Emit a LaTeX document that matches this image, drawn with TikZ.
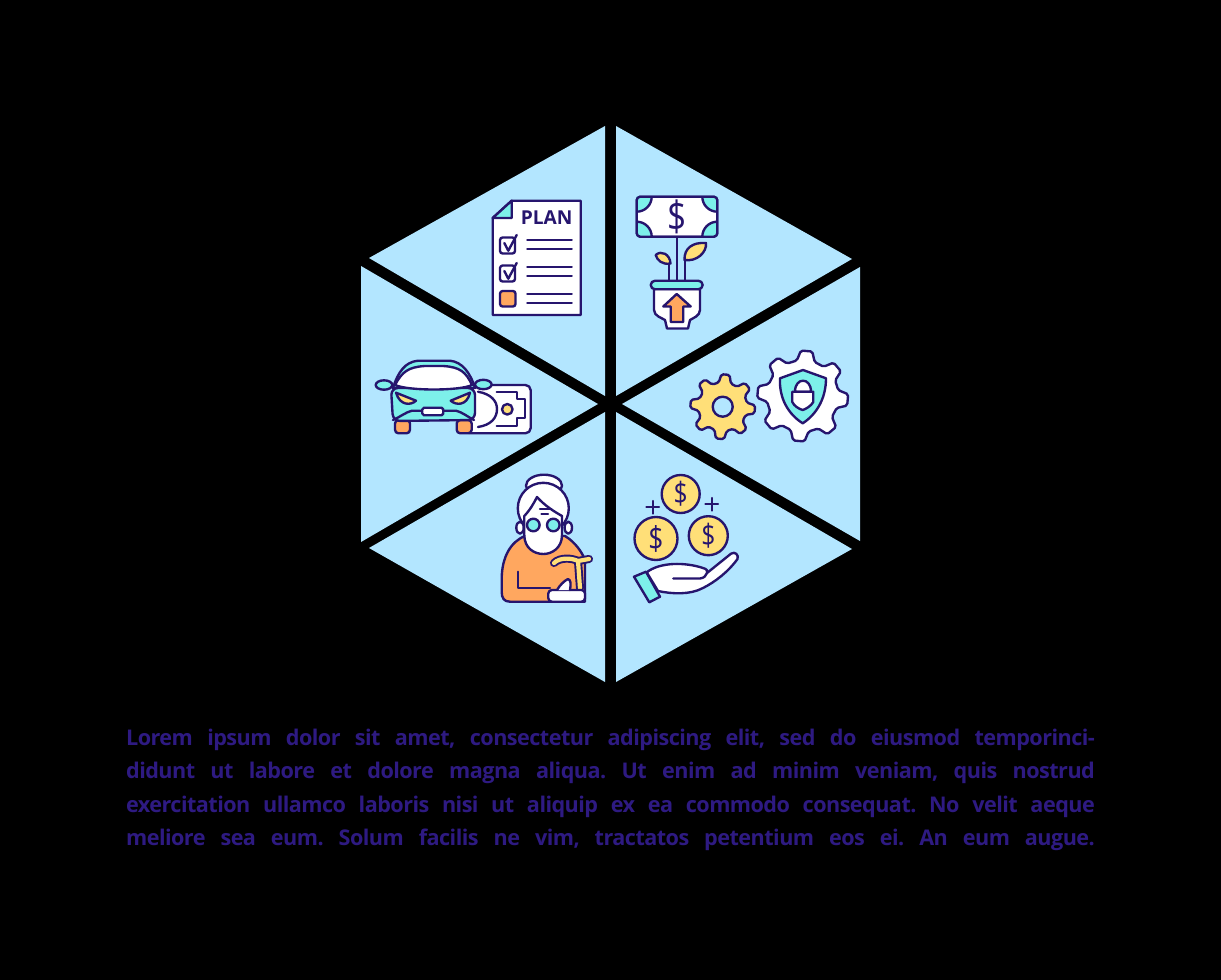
\documentclass[tikz,border=0pt]{standalone}
\usepackage{fontspec}
\usepackage{graphicx}
\setmainfont{Open Sans}
\newfontfamily\bodyfont{Open Sans}[LetterSpace=-2.5]
\usetikzlibrary{calc}
\definecolor{sky}{HTML}{B3E6FF}
\definecolor{ink}{HTML}{26156E}
\definecolor{bodyink}{HTML}{2E1A82}
\definecolor{mint}{HTML}{7DF0EA}
\definecolor{gold}{HTML}{FFDF78}
\definecolor{peach}{HTML}{FFA75F}
\tikzset{
	wedge/.style={fill=sky},
	icon/.style={draw=ink,line width=1.35pt,line join=round,line cap=round},
	bodyline/.style={text=bodyink,inner sep=0pt,font=\bodyfont\bfseries\frenchspacing\fontsize{12.3}{14}\selectfont},
	dollar/.style={text=ink,inner sep=0pt,font=\fontsize{#1}{#1}\selectfont}
}
% one gear: centre, outer radius, root radius, number of teeth, fill
\newcommand{\drawgear}[5]{
	\pgfmathsetmacro{\gearstep}{360/#4}
	\draw[icon,fill=#5,rounded corners=1pt] ($(#1)+(5+0.16*\gearstep:#2)$) \foreach \k in {1,...,#4}{
		-- ($(#1)+(5+\k*\gearstep-\gearstep+0.16*\gearstep:#2)$)
		-- ($(#1)+(5+\k*\gearstep-\gearstep+0.32*\gearstep:#3)$)
		-- ($(#1)+(5+\k*\gearstep-\gearstep+0.68*\gearstep:#3)$)
		-- ($(#1)+(5+\k*\gearstep-\gearstep+0.84*\gearstep:#2)$)
	} -- cycle;
}
\begin{document}
\begin{tikzpicture}[x=0.02cm,y=-0.02cm,line join=round,line cap=round]
	\fill[black] (0,0) rectangle (1221,980);
	% wedges
	\fill[wedge] (605,126)--(605,396)--(369,258)--cycle;
	\fill[wedge] (616,126)--(616,396)--(852,259)--cycle;
	\fill[wedge] (860,267)--(860,541)--(622,404)--cycle;
	\fill[wedge] (852,549)--(616,682)--(616,412)--cycle;
	\fill[wedge] (605,682)--(369,548)--(605,412)--cycle;
	\fill[wedge] (361,266)--(361,542)--(598,404)--cycle;
	% plan sheet
	\draw[icon,fill=white] (492.7,218)--(511.7,200.7)--(580.7,200.7)--(580.7,315)--(492.7,315)--cycle;
	\draw[icon,fill=mint] (492.7,218)--(511.7,200.7)--(511.7,218)--cycle;
	\node[text=ink,inner sep=0pt,font=\bfseries\fontsize{10.9}{12}\selectfont] (plan) at (546.7,218) {PLAN};
	\draw[icon,fill=white,rounded corners=1.5pt] (500,237.5) rectangle (515,253.5);
	\draw[icon,fill=white,rounded corners=1.5pt] (500,265.5) rectangle (515,281.5);
	\draw[icon,fill=peach,rounded corners=1.5pt] (500,291) rectangle (515.5,306.5);
	\draw[icon] (504.3,243)--(508.3,250.7)--(516.7,235);
	\draw[icon] (504.3,271)--(508.3,278.7)--(516.7,263);
	\foreach \y in {240.3,249,267,276,293.7,302.7}
		\draw[icon] (527.3,\y)--(571.7,\y);
	% plant with note
	\draw[icon] (676.7,236)--(676.7,281);
	\draw[icon] (669.3,281)--(669.3,263);
	\draw[icon] (685.3,281)--(685.3,260);
	\draw[icon,fill=gold] (655.7,255) .. controls (661,250) and (670,254) .. (670.5,263.5) .. controls (662,265) and (657,260) .. cycle;
	\draw[icon,fill=gold] (684.5,260) .. controls (684,248) and (693,242) .. (706,243) .. controls (707,252) and (697,262) .. cycle;
	\draw[icon,fill=white,rounded corners=2pt] (636.7,196.7) rectangle (717.3,236.7);
	\begin{scope}
		\clip (636.7,196.7) rectangle (717.3,236.7);
		\foreach \cx/\cy in {636.7/196.7,717.3/196.7,636.7/236.7,717.3/236.7}
			\draw[icon,fill=mint] (\cx,\cy) circle (15);
	\end{scope}
	\draw[icon,rounded corners=2pt] (636.7,196.7) rectangle (717.3,236.7);
	\node[dollar=19] (notesign) at (676.7,216.7) {\scalebox{1}[1.25]{\$}};
	\draw[icon,fill=white] (654,289) -- (654,310) .. controls (654,316) and (662,318) .. (665,320) -- (667,328.5) -- (688,328.5) -- (690,320) .. controls (693,318) and (700,316) .. (700,310) -- (700,289) -- cycle;
	\draw[icon,fill=mint,rounded corners=2.5pt] (650.7,280.7) rectangle (702.7,289.3);
	\draw[icon,fill=peach] (676.7,294)--(690.7,306.5)--(683.3,306.5)--(683.3,322)--(670.7,322)--(670.7,306.5)--(663.3,306.5)--cycle;
	% note behind car
	\draw[icon,fill=white,rounded corners=3pt] (465,385) rectangle (530.7,433.3);
	\draw[icon] (478,391.7) .. controls (491,394) and (497,401) .. (497,409) .. controls (497,418) and (491,425) .. (478,427);
	\draw[icon] (496.7,391.7)--(516.7,391.7)--(516.7,399.3)--(525,399.3)--(525,418.3)--(516.7,418.3)--(516.7,426)--(496.7,426);
	\draw[icon,fill=gold] (507.3,409.3) circle (5.3);
	% car
	\draw[icon,fill=peach,rounded corners=2pt] (395,420) rectangle (410,433.3);
	\draw[icon,fill=peach,rounded corners=2pt] (456.7,420) rectangle (471.7,433.3);
	\draw[icon,fill=mint] (384,385) ellipse (8.3 and 4.7);
	\draw[icon,fill=mint] (483.3,384.5) ellipse (8.3 and 4.7);
	\draw[icon,fill=mint] (393,388) .. controls (398,372) and (405,362) .. (418,360.7) -- (450,360.7) .. controls (462,362) and (470,372) .. (475,388) -- cycle;
	\draw[icon,fill=mint,rounded corners=4pt] (391,388) -- (475,388) -- (475,420) -- (393,421) -- cycle;
	\draw[icon,fill=white] (395,385) .. controls (402,372) and (408,367) .. (425,366) -- (443,366) .. controls (460,367) and (466,372) .. (472,385) .. controls (460,391) and (408,391) .. (395,385) -- cycle;
	\draw[icon] (393,420) .. controls (400,417) and (406,412) .. (412,410.7) -- (456,410.7) .. controls (462,412) and (468,417) .. (474,420);
	\draw[icon,fill=gold] (396,392.7) -- (416,400.7) .. controls (411,405.5) and (400,406) .. (396,392.7) -- cycle;
	\draw[icon,fill=gold] (470,392.7) -- (450.7,400.7) .. controls (456,405.5) and (467,406) .. (470,392.7) -- cycle;
	\draw[icon,fill=white,rounded corners=1pt] (422.3,407.7) rectangle (443.3,415.3);
	% gears
	\drawgear{722.7,406.7}{32.5}{24.5}{8}{gold}
	\draw[icon,fill=sky] (722.7,406.7) circle (10);
	\drawgear{802.7,396}{45.5}{36}{8}{white}
	\draw[icon,fill=mint] (803,370)--(826,378.3) .. controls (826,398) and (817,414) .. (802.7,423.3) .. controls (788,414) and (779,398) .. (780,378.3) -- cycle;
	\draw[icon,fill=white] (795,391.7) .. controls (795,377) and (811,377) .. (811,391.7) -- cycle;
	\draw[icon,fill=white] (792.3,391.7) -- (813.3,391.7) -- (813.3,402) .. controls (811,406) and (806,409) .. (802.7,410) .. controls (799,409) and (794,406) .. (792.3,402) -- cycle;
	% grandma
	\draw[icon,fill=peach] (550,601.7) -- (510,601.7) .. controls (504,601.7) and (501.7,598) .. (501.7,592) -- (501.7,578) .. controls (502,558) and (510,542) .. (525,536) -- (565,536) .. controls (575,542) and (582,552) .. (585,560) -- (585,601.7) -- cycle;
	\draw[icon] (518.3,571.7)--(518.3,587.7)--(550,587.7);
	\draw[icon,fill=white] (544,485.7) ellipse (18 and 11);
	\draw[icon,fill=white] (543.3,508.3) circle (25.5);
	\draw[icon,fill=white] (520,527.7) ellipse (3.7 and 6);
	\draw[icon,fill=white] (568.3,527.7) ellipse (3.7 and 6);
	\draw[icon,fill=white] (524.3,516) .. controls (530,510) and (534,503) .. (537,497) .. controls (545,506) and (555,512) .. (562,516) -- (562,535) .. controls (562,548) and (552,554) .. (543.3,554) .. controls (534,554) and (524.3,548) .. (524.3,535) -- cycle;
	\draw[icon] (540,509)--(551,509);
	\draw[icon] (541.5,514)--(548,514);
	\draw[icon,fill=mint] (533.3,525) circle (6.3);
	\draw[icon,fill=mint] (553.3,525) circle (6.3);
	\draw[draw=ink,line width=4.6pt] (554,563) .. controls (560,557) and (572,558) .. (578,561) -- (580,588);
	\draw[draw=ink,line width=4.6pt] (578,561) -- (589,559);
	\draw[draw=gold,line width=2.4pt] (554,563) .. controls (560,557) and (572,558) .. (578,561) -- (580,588);
	\draw[draw=gold,line width=2.4pt] (578,561) -- (589,559);
	\draw[icon,fill=white,rounded corners=2pt] (548.3,590) rectangle (585,601.7);
	\draw[icon,fill=white] (557,590) .. controls (560,585) and (564,581) .. (568,579) .. controls (571,580) and (571,584) .. (570,590);
	% coins
	\foreach \cx/\cy/\cr/\fs/\nm in {680.7/494/19/14/coina,656/538.5/21.5/15/coinb,708.3/535.7/19.5/14/coinc}{
		\draw[icon,fill=gold] (\cx,\cy) circle (\cr);
		\node[dollar=\fs] (\nm) at (\cx,\cy) {\scalebox{1}[1.25]{\$}};
	}
	\draw[icon] (646.4,507.3)--(659,507.3) (652.7,501)--(652.7,513.6);
	\draw[icon] (705.4,504.3)--(718,504.3) (711.7,498)--(711.7,510.6);
	% hand
	\draw[icon,fill=mint] (634,576.7)--(646,571.7)--(660,596.7)--(649.3,602.3)--cycle;
	\draw[icon,fill=white] (646.7,572.3) .. controls (660,562) and (685,562) .. (703,568) .. controls (707,569) and (708,571) .. (707,573) -- (731,553.7) .. controls (735,551) and (739,555) .. (737.5,559) .. controls (728,572) and (715,582) .. (703,588) .. controls (690,595) and (672,594) .. (658,591) -- cycle;
	\draw[icon] (673.3,578.5)--(700,578.5) .. controls (704,578) and (706,576) .. (707,573);
	% text lines
	\node[bodyline] (line1) at (610.5,739.5) {\makebox[19.38cm][s]{Lorem ipsum dolor sit amet, consectetur adipiscing elit, sed do eiusmod temporinci-}};
	\node[bodyline] (line2) at (610.5,772.5) {\makebox[19.38cm][s]{didunt ut labore et dolore magna aliqua. Ut enim ad minim veniam, quis nostrud}};
	\node[bodyline] (line3) at (610.5,806.5) {\makebox[19.38cm][s]{exercitation ullamco laboris nisi ut aliquip ex ea commodo consequat. No velit aeque}};
	\node[bodyline] (line4) at (610.5,839.5) {\makebox[19.38cm][s]{meliore sea eum. Solum facilis ne vim, tractatos petentium eos ei. An eum augue.}};
	\end{tikzpicture}
\end{document}
